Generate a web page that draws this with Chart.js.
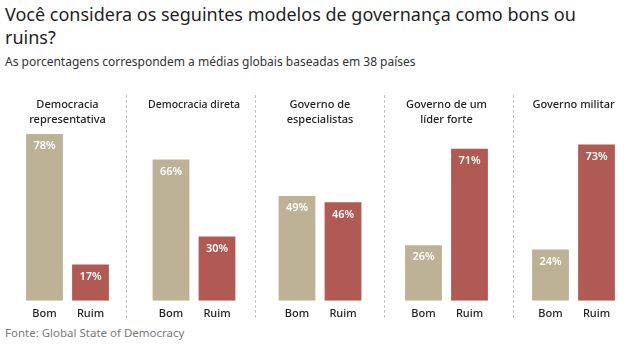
<!DOCTYPE html>
<html lang="pt-BR">
<head>
<meta charset="utf-8">
<title>Modelos de governança</title>
<script src="https://cdn.jsdelivr.net/npm/chart.js@4.4.1/dist/chart.umd.min.js"></script>
<style>
    html, body {
        margin: 0;
        padding: 0;
        background: #ffffff;
    }
    #wrap {
        position: relative;
        width: 640px;
        height: 345px;
        overflow: hidden;
        font-family: "Noto Sans", sans-serif;
        color: #222222;
    }
    #title {
        position: absolute;
        left: 5px;
        top: 3px;
        font-size: 18px;
        line-height: 23px;
        font-weight: 400;
        color: #1f1f1f;
    }
    #subtitle {
        position: absolute;
        left: 5px;
        top: 54px;
        font-size: 12px;
        line-height: 16px;
        color: #333333;
    }
    #source {
        position: absolute;
        left: 5px;
        top: 325px;
        font-size: 11.5px;
        line-height: 16px;
        color: #7a7a7a;
    }
    .panel {
        position: absolute;
        top: 88px;
        height: 238px;
    }
    .panel canvas {
        display: block;
    }
    .divider {
        position: absolute;
        top: 95px;
        height: 223px;
        width: 0;
        border-left: 1px dashed #c4c4c4;
    }
</style>
</head>
<body>
<div id="wrap">
    <div id="title">Você considera os seguintes modelos de governança como bons ou<br>ruins?</div>
    <div id="subtitle">As porcentagens correspondem a médias globais baseadas em 38 países</div>
    <div id="source">Fonte: Global State of Democracy</div>
</div>

<script>
// ===========================
// Data
// ===========================

const MODELS = [
    ['Democracia', 'representativa'],
    ['Democracia direta', ''],
    ['Governo de', 'especialistas'],
    ['Governo de um', 'líder forte'],
    ['Governo militar', '']
];
const ANSWERS = ['Bom', 'Ruim'];
const BOM = [78, 66, 49, 26, 24];
const RUIM = [17, 30, 46, 71, 73];

const COLOR_BOM = '#bdb296';
const COLOR_RUIM = '#b05a53';

// panel boxes (left edge / width) and bar area inside each one
const PANELS = [
    { left: 0,   width: 126, padL: 21.5, padR: 12.5 },
    { left: 126, width: 129, padL: 22,   padR: 15 },
    { left: 255, width: 129, padL: 19,   padR: 18 },
    { left: 384, width: 129, padL: 16.5, padR: 20.5 },
    { left: 513, width: 127, padL: 14.5, padR: 20.5 }
];

// ===========================
// Value labels inside bars
// ===========================

const barLabels = {
    id: 'barLabels',
    afterDatasetsDraw(chart) {
        const ctx = chart.ctx;
        const meta = chart.getDatasetMeta(0);
        const values = chart.data.datasets[0].data;
        ctx.save();
        ctx.font = '600 11px "Noto Sans", sans-serif';
        ctx.fillStyle = '#ffffff';
        ctx.textAlign = 'center';
        ctx.textBaseline = 'middle';
        meta.data.forEach((bar, i) => {
            ctx.fillText(values[i] + '%', bar.x, bar.y + 12);
        });
        ctx.restore();
    }
};

function createPanel(i) {
    const wrap = document.getElementById('wrap');
    const p = PANELS[i];

    const box = document.createElement('div');
    box.className = 'panel';
    box.style.left = p.left + 'px';
    box.style.width = p.width + 'px';
    const canvas = document.createElement('canvas');
    canvas.width = p.width;
    canvas.height = 238;
    box.appendChild(canvas);
    wrap.appendChild(box);

    if (i > 0) {
        const line = document.createElement('div');
        line.className = 'divider';
        line.style.left = p.left + 'px';
        wrap.appendChild(line);
    }

    new Chart(canvas, {
        type: 'bar',
        data: {
            labels: ANSWERS,
            datasets: [{
                data: [BOM[i], RUIM[i]],
                backgroundColor: [COLOR_BOM, COLOR_RUIM],
                borderWidth: 0,
                barPercentage: 0.8,
                categoryPercentage: 1
            }]
        },
        options: {
            responsive: false,
            animation: false,
            layout: {
                padding: { left: p.padL, right: p.padR, top: 0, bottom: 0 }
            },
            plugins: {
                legend: { display: false },
                tooltip: { enabled: false },
                title: {
                    display: true,
                    text: MODELS[i],
                    color: '#222222',
                    font: { family: '"Noto Sans", sans-serif', size: 11, weight: '500', lineHeight: 1.3 },
                    padding: { top: 10, bottom: 3 }
                }
            },
            scales: {
                x: {
                    grid: { display: false, drawTicks: false },
                    border: { display: false },
                    ticks: {
                        color: '#222222',
                        padding: 6,
                        font: { family: '"Noto Sans", sans-serif', size: 11, weight: '500' }
                    }
                },
                y: {
                    display: false,
                    min: 0,
                    max: 80
                }
            }
        },
        plugins: [barLabels]
    });
}

for (let i = 0; i < MODELS.length; i++) {
    createPanel(i);
}
</script>
</body>
</html>
